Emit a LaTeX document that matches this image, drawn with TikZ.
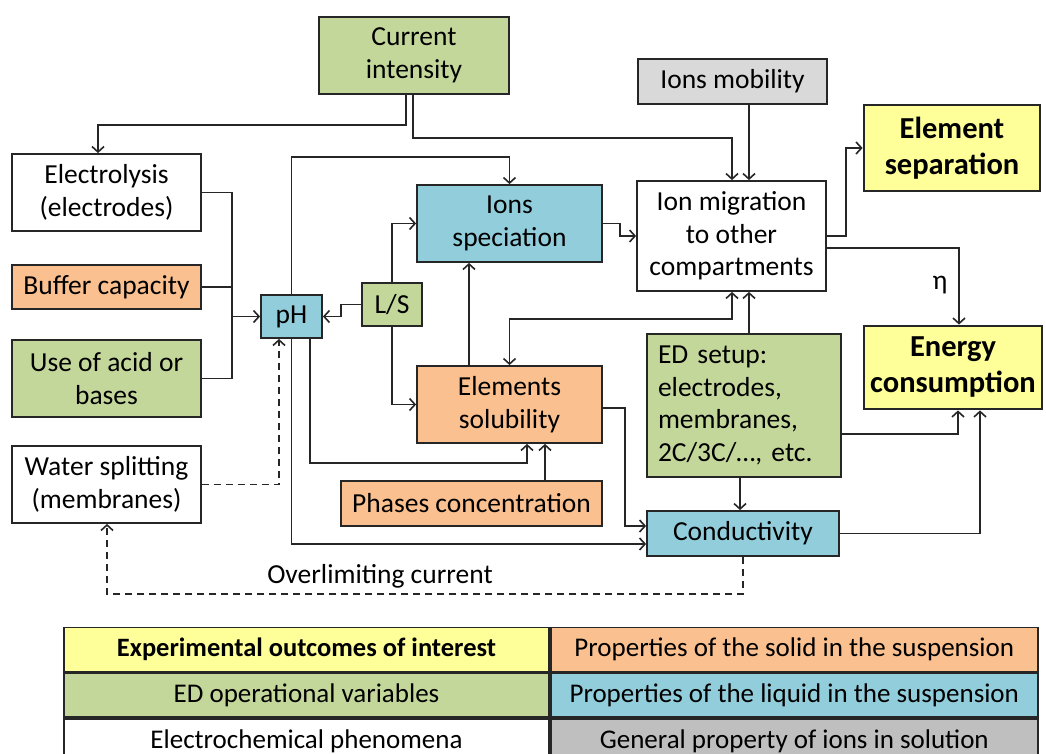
\documentclass[tikz,border=0pt]{standalone}
\usepackage{fontspec}
\setmainfont{Carlito}
\usetikzlibrary{arrows.meta}
\definecolor{cgreen}{HTML}{C4D79B}
\definecolor{corange}{HTML}{FAC090}
\definecolor{cblue}{HTML}{92CDDC}
\definecolor{cyellow}{HTML}{FFFF99}
\definecolor{cgray}{HTML}{D9D9D9}
\definecolor{cgraydark}{HTML}{BFBFBF}
\definecolor{cline}{HTML}{262626}
\begin{document}
\begin{tikzpicture}[x=1pt,y=-1pt,
  box/.style={draw=cline, line width=1.8pt, inner sep=0pt, align=center,
    font=\fontsize{27.5}{32.5}\selectfont, text=black},
  obox/.style={box, line width=2.8pt, fill=cyellow,
    font=\bfseries\fontsize{30.5}{36}\selectfont},
  cell/.style={draw=cline, line width=1.8pt, inner sep=0pt, align=center,
    font=\fontsize{27}{30}\selectfont, text=black, minimum height=44pt},
  conn/.style={draw=cline, line width=1.6pt},
  arr/.style={conn, -{Straight Barb[length=5.5pt,width=12pt,line width=1.6pt]}},
  darr/.style={conn, {Straight Barb[length=5.5pt,width=12pt,line width=1.6pt]}-{Straight Barb[length=5.5pt,width=12pt,line width=1.6pt]}},
  dashedarr/.style={arr, dash pattern=on 7pt off 5pt},
  lbl/.style={font=\fontsize{27.5}{30}\selectfont, text=black, inner sep=0pt}
]
\useasboundingbox (0,0) rectangle (1046,754);
\fill[white] (0,0) rectangle (1046,754);

% nodes
\node[box, fill=cgreen, minimum width=190pt, minimum height=77pt] (ci) at (414,55.5) {Current\\intensity};
\node[box, fill=white, minimum width=189pt, minimum height=77pt] (el) at (106.5,192.5) {Electrolysis\\(electrodes)};
\node[box, fill=corange, minimum width=189pt, minimum height=44pt] (bc) at (106.5,287) {Buffer capacity};
\node[box, fill=cgreen, minimum width=189pt, minimum height=77pt] (ua) at (106.5,378.5) {Use of acid or\\bases};
\node[box, fill=white, minimum width=189pt, minimum height=77pt] (ws) at (106.5,484.5) {Water splitting\\(membranes)};
\node[box, fill=cblue, minimum width=61pt, minimum height=43pt] (ph) at (291.5,316.5) {pH};
\node[box, fill=cgreen, minimum width=60pt, minimum height=43pt] (ls) at (392,304.5) {L/S};
\node[box, fill=cblue, minimum width=185pt, minimum height=77pt] (is) at (509.5,223.5) {Ions\\speciation};
\node[box, fill=corange, minimum width=185pt, minimum height=77pt] (es) at (509.5,404.5) {Elements\\solubility};
\node[box, fill=corange, minimum width=261pt, minimum height=45pt] (pc) at (471.5,503.5) {Phases concentration};
\node[box, fill=cgray, minimum width=189pt, minimum height=45pt] (im) at (732.5,81.5) {Ions mobility};
\node[box, fill=white, minimum width=189pt, minimum height=110pt] (mig) at (731.5,236) {Ion migration\\to other\\compartments};
\node[obox, minimum width=176pt, minimum height=86pt] (sep) at (952,148) {Element\\separation};
\node[obox, minimum width=178pt, minimum height=83pt] (en) at (953,367.5) {Energy\\consumption};
\node[box, fill=cgreen, minimum width=194pt, minimum height=143pt, text width=172pt, align=left] (ed) at (744,405.5) {ED setup:\\electrodes,\\membranes,\\2C/3C/…, etc.};
\node[box, fill=cblue, minimum width=192pt, minimum height=45pt] (cd) at (743,533.5) {Conductivity};

% connectors
\draw[arr] ([xshift=-8pt]ci.south) -- ++(0,30) -| ([xshift=-8.5pt]el.north);
\draw[arr] ([xshift=-1pt]ci.south) -- ++(0,43) -| ([xshift=0.5pt]mig.north);
\draw[arr] ([xshift=16.5pt]im.south) -- ([xshift=17.5pt]mig.north);
\draw[arr] (mig.east) -- ++(19,0) |- (sep.west);
\draw[arr] ([yshift=-12pt]mig.east) -| ([xshift=6pt]en.north);
\node[lbl] (eta) at (940,285) {η};
\draw[arr] (el.east) -- ++(30,0) |- (ph.west);
\draw[conn] (bc.east) -- ++(30,0);
\draw[conn] (ua.east) -- ++(30,0) |- (ph.west);
\draw[arr] (ls.west) -- ++(-20,0) |- (ph.east);
\draw[arr] (ls.north) |- (is.west);
\draw[arr] (ls.south) |- (es.west);
\draw[arr] (ph.north) -- ++(0,-137) -| (is.north);
\draw[arr] ([xshift=-40.5pt]es.north) -- ([xshift=-40.5pt]is.south);
\draw[arr] (is.east) -- ++(17,0) |- (mig.west);
\draw[arr] ([xshift=5pt]ed.north) -- ([xshift=17.5pt]mig.south);
\draw[darr] ([xshift=0.5pt]mig.south) -- ++(0,27) -| (es.north);
\draw[arr] ([xshift=18.5pt]ph.south) -- ++(0,124) -| ([xshift=17.5pt]es.south);
\draw[arr] ([xshift=73.5pt]pc.north) -- ([xshift=35.5pt]es.south);
\draw[arr] ([yshift=-3.5pt]es.east) -- ++(22,0) |- ([yshift=7.5pt]cd.west);
\draw[arr] (ph.south) |- ([yshift=-10.5pt]cd.west);
\draw[arr] ([xshift=-4pt]ed.south) -- ([xshift=-3pt]cd.north);
\draw[arr] ([yshift=-28.5pt]ed.east) -| ([xshift=5pt]en.south);
\draw[arr] (cd.east) -| ([xshift=27pt]en.south);
\draw[dashedarr] (ws.east) -| ([xshift=-12.5pt]ph.south);
\draw[dashedarr] (cd.south) -- ++(0,37) -| ([xshift=0.5pt]ws.south);
\node[lbl] (olc) at (380,576) {Overlimiting current};

% legend
\node[cell, fill=cyellow, minimum width=485pt, font=\bfseries\fontsize{26.5}{30}\selectfont] (l1) at (306.5,649.5) {Experimental outcomes of interest};
\node[cell, fill=corange, minimum width=487pt, anchor=west] (r1) at (l1.east) {Properties of the solid in the suspension};
\node[cell, fill=cgreen, minimum width=485pt, anchor=north] (l2) at (l1.south) {ED operational variables};
\node[cell, fill=cblue, minimum width=487pt, anchor=west] (r2) at (l2.east) {Properties of the liquid in the suspension};
\node[cell, fill=white, minimum width=485pt, anchor=north] (l3) at (l2.south) {Electrochemical phenomena};
\node[cell, fill=cgraydark, minimum width=487pt, anchor=west] (r3) at (l3.east) {General property of ions in solution};
\end{tikzpicture}
\end{document}
